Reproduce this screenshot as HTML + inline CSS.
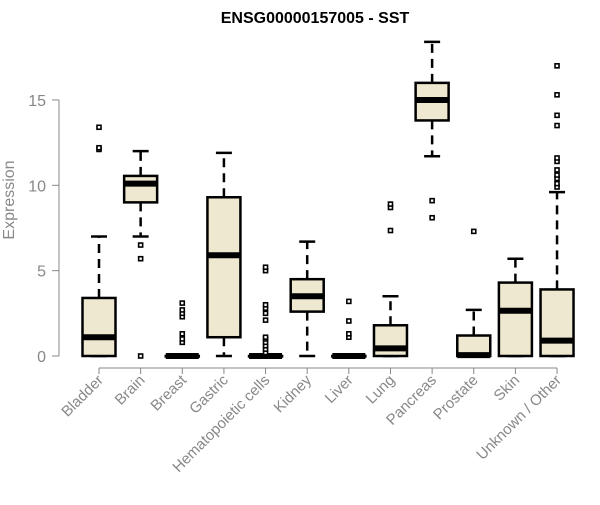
<!DOCTYPE html>
<html><head><meta charset="utf-8"><style>
body{margin:0;background:#fff;}
svg text{font-family:"Liberation Sans",Arial,sans-serif;}
</style></head><body>
<svg id="chart" width="600" height="500" xmlns="http://www.w3.org/2000/svg">
<text x="315" y="23" text-anchor="middle" font-weight="bold" font-size="16">ENSG00000157005 - SST</text>
<text transform="translate(14,200) rotate(-90)" text-anchor="middle" font-size="16" fill="#888">Expression</text>
<g id="yaxis"></g>
<g id="xaxis"></g>
<g id="boxes"></g>
</svg>
<script>
const categories=["Bladder","Brain","Breast","Gastric","Hematopoietic cells","Kidney","Liver","Lung","Pancreas","Prostate","Skin","Unknown / Other"];
const whiskerLow=[0,7.0,0,0,0,0,0,0,11.7,0,0,0];
const q1=[0,9.0,0,1.1,0,2.6,0,0,13.8,0,0,0];
const medians=[1.1,10.1,0,5.9,0,3.5,0,0.45,15.0,0.05,2.65,0.9];
const q3=[3.4,10.55,0,9.3,0,4.5,0,1.8,16.0,1.2,4.3,3.9];
const whiskerHigh=[7.0,12.0,0,11.9,0,6.7,0,3.5,18.4,2.7,5.7,9.6];
const outliers=[[12.1,12.2,13.4],[6.5,5.7,0],[0.8,1.0,1.3,2.3,2.5,2.7,3.1],[],[0.2,0.4,0.6,0.8,1.0,1.1,2.1,2.5,2.8,3.0,5.0,5.2],[],[1.1,1.3,2.05,3.2],[7.35,8.7,8.9],[9.1,8.1],[7.3],[],[9.9,10.1,10.4,10.6,10.9,11.4,11.6,13.5,14.1,15.3,17.0]];
const yTicks=[0,5,10,15];
const NS="http://www.w3.org/2000/svg";
const y=v=>356-v*17.07;
const x=i=>99+i*41.64;
function mk(tag,attrs,parent){const e=document.createElementNS(NS,tag);for(const k in attrs)e.setAttribute(k,attrs[k]);parent.appendChild(e);return e;}
const ya=document.getElementById('yaxis'),xa=document.getElementById('xaxis'),bx=document.getElementById('boxes');
mk('line',{x1:59,x2:59,y1:y(15),y2:y(0),stroke:'#888'},ya);
yTicks.forEach(t=>{
 mk('line',{x1:52,x2:59,y1:y(t),y2:y(t),stroke:'#888'},ya);
 const tx=mk('text',{x:46,y:y(t)+6,'text-anchor':'end','font-size':16,fill:'#888'},ya);tx.textContent=t;
 
 
});
mk('line',{x1:x(0),x2:x(categories.length-1),y1:368,y2:368,stroke:'#888'},xa);
categories.forEach((c,i)=>{
 mk('line',{x1:x(i),x2:x(i),y1:368,y2:374,stroke:'#888'},xa);
 const tx=mk('text',{transform:`translate(${x(i)+5},${381}) rotate(-45)`,'text-anchor':'end','font-size':15,fill:'#888'},xa);tx.textContent=c;
 
 
 const g=mk('g',{},bx);
 
 
 const cx=x(i),hw=16.5;
 mk('line',{x1:cx,x2:cx,y1:y(q3[i]),y2:y(whiskerHigh[i]),stroke:'#000','stroke-width':2.5,'stroke-dasharray':'9,6'},g);
 mk('line',{x1:cx,x2:cx,y1:y(q1[i]),y2:y(whiskerLow[i]),stroke:'#000','stroke-width':2.5,'stroke-dasharray':'9,6'},g);
 mk('line',{x1:cx-8,x2:cx+8,y1:y(whiskerHigh[i]),y2:y(whiskerHigh[i]),stroke:'#000','stroke-width':2.5},g);
 mk('line',{x1:cx-8,x2:cx+8,y1:y(whiskerLow[i]),y2:y(whiskerLow[i]),stroke:'#000','stroke-width':2.5},g);
 mk('rect',{x:cx-hw,y:y(q3[i]),width:hw*2,height:Math.max(0.5,y(q1[i])-y(q3[i])),fill:'#ede8cf',stroke:'#000','stroke-width':2.5},g);
 mk('line',{x1:cx-hw,x2:cx+hw,y1:y(medians[i]),y2:y(medians[i]),stroke:'#000','stroke-width':6},g);
 outliers[i].forEach(v=>{
  const p=mk('rect',{x:cx-2,y:y(v)-2,width:4,height:4,fill:'#fff',stroke:'#000','stroke-width':1.6},g);
  
  
 });
});
</script>
</body></html>
